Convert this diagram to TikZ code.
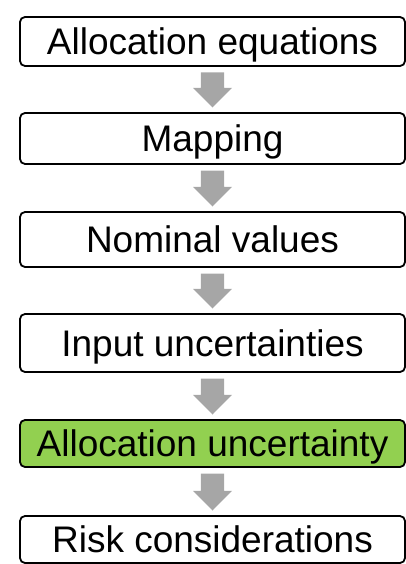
\documentclass[tikz,border=0pt]{standalone}
\usepackage{fontspec}
\setmainfont{Liberation Sans}
\usetikzlibrary{calc}
\definecolor{arrowgray}{HTML}{A6A6A6}
\definecolor{stepgreen}{HTML}{92D050}
\begin{document}
\begin{tikzpicture}[x=1pt,y=1pt,
  stepbox/.style={draw=black, line width=1.8pt, rounded corners=5pt,
    minimum width=385pt, inner sep=0pt, outer sep=0pt,
    font=\fontsize{37}{44}\selectfont, text height=26.5pt, text depth=0pt},
  hilite/.style={fill=stepgreen}]
\useasboundingbox (0,0) rectangle (406,-564);
\node[stepbox, minimum height=49pt] (b1) at (212.5,-41.5) {Allocation equations};
\node[stepbox, minimum height=51pt] (b2) at (212.5,-138.5) {Mapping};
\node[stepbox, minimum height=55pt] (b3) at (212.5,-239.5) {Nominal values};
\node[stepbox, minimum height=58pt] (b4) at (212.5,-343) {Input uncertainties};
\node[stepbox, hilite, minimum height=47pt] (b5) at (212.5,-443.5) {Allocation uncertainty};
\node[stepbox, minimum height=47pt] (b6) at (212.5,-539.5) {Risk considerations};
\foreach \a/\b in {b1/b2,b2/b3,b3/b4,b4/b5,b5/b6}{
  \fill[arrowgray] let \p1=($(\a.south)+(0,-6.5pt)$), \p2=($(\b.north)+(0,5.5pt)$) in
    (\x1-11.7pt,\y1) -- (\x1+11.7pt,\y1) -- (\x1+11.7pt,\y2+19.7pt)
    -- (\x1+19.5pt,\y2+19.7pt) -- (\x1,\y2) -- (\x1-19.5pt,\y2+19.7pt)
    -- (\x1-11.7pt,\y2+19.7pt) -- cycle;
}
\end{tikzpicture}
\end{document}
